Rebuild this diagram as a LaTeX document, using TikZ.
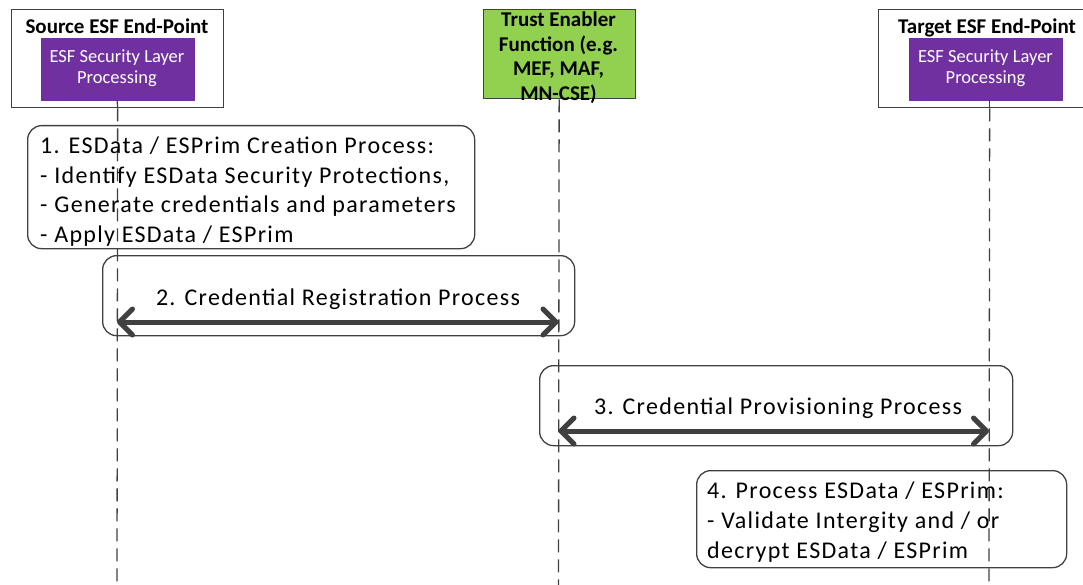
\documentclass[tikz,border=0pt]{standalone}
\usepackage{fontspec}
\setmainfont{Carlito}
\newfontfamily\bodyfont[LetterSpace=5.5]{Carlito}
\usetikzlibrary{arrows.meta}
\definecolor{linegray}{HTML}{404040}
\definecolor{purp}{HTML}{7030A0}
\definecolor{grn}{HTML}{92D050}
\begin{document}
\begin{tikzpicture}[x=1pt,y=-1pt,
  hdrbox/.style={draw=linegray,line width=1.3pt,inner sep=0pt,anchor=north west},
  purpbox/.style={fill=purp,draw=purp,inner sep=0pt,anchor=north west},
  procbox/.style={draw=linegray,line width=1.3pt,rounded corners=14pt,inner sep=0pt,anchor=north west},
  life/.style={draw=linegray,line width=1.3pt,dash pattern=on 13pt off 7pt},
  lifesolid/.style={draw=linegray,line width=1.3pt},
  msg/.style={draw=linegray,line width=5pt,{Straight Barb[length=13pt,width=26pt,round]}-{Straight Barb[length=13pt,width=26pt,round]}},
  title/.style={anchor=base,inner sep=0pt,font=\bfseries\fontsize{21}{24}\selectfont},
  txt/.style={inner sep=0pt}
]
\useasboundingbox (0,0) rectangle (1083,585);
\clip (0,0) rectangle (1083,585);

% header boxes
\node[hdrbox,minimum width=212pt,minimum height=98pt] (srcbox) at (11,9) {};
\node[purpbox,minimum width=153pt,minimum height=62pt] (srcpurp) at (40.5,38) {};
\node[hdrbox,fill=grn,minimum width=152pt,minimum height=89pt] (tebox) at (482.5,9) {};
\node[hdrbox,minimum width=222pt,minimum height=98pt] (tgtbox) at (878,9) {};
\node[purpbox,minimum width=153pt,minimum height=62pt] (tgtpurp) at (909,38) {};

% process boxes
\node[procbox,minimum width=447pt,minimum height=123pt] (b1) at (27,125) {};
\node[procbox,minimum width=472pt,minimum height=80pt] (b2) at (102,255) {};
\node[procbox,minimum width=473pt,minimum height=80pt] (b3) at (539,365) {};
\node[procbox,minimum width=370pt,minimum height=97pt] (b4) at (696,470) {};

% lifelines
\coordinate (srcend) at (117,585);
\coordinate (teend) at (558.5,585);
\coordinate (tgtend) at (989,585);
\draw[lifesolid] (srcpurp.south) -- (srcbox.south);
\draw[lifesolid] (tgtbox.south |- tgtpurp.south) -- (tgtbox.south);
\draw[life] (srcbox.south) -- (srcend);
\draw[life] (tebox.south) -- (teend);
\draw[life] (tgtbox.south) -- (tgtend);

% messages
\coordinate (m2a) at (117,322);
\coordinate (m2b) at (558.5,322);
\coordinate (m3a) at (558.5,431);
\coordinate (m3b) at (989,431);
\draw[msg] (m2a) -- (m2b);
\draw[msg] (m3a) -- (m3b);

% texts
\node[title] (srctitle) at (117,34) {Source ESF End-Point};
\node[title] (tgttitle) at (987,34) {Target ESF End-Point};
\node[txt,anchor=base,text=white] (srcptext) at (117,63) {\parbox[t]{150pt}{\centering\fontsize{18.5}{21}\selectfont ESF Security Layer\\Processing}};
\node[txt,anchor=base,text=white] (tgtptext) at (985.5,63) {\parbox[t]{150pt}{\centering\fontsize{18.5}{21}\selectfont ESF Security Layer\\Processing}};
\node[txt,anchor=base] (tetext) at (558.5,27) {\parbox[t]{150pt}{\centering\bfseries\fontsize{21}{24.5}\selectfont Trust Enabler\\Function (e.g.\\MEF, MAF,\\MN-CSE)}};

\node[txt,anchor=base west] (t1) at (40,154) {\parbox[t]{440pt}{\raggedright\bodyfont\fontsize{24}{29.5}\selectfont 1. ESData / ESPrim Creation Process:\\- Identify ESData Security Protections,\\- Generate credentials and parameters\\- Apply ESData / ESPrim}};
\node[txt,anchor=base] (t2) at (338,305) {\bodyfont\fontsize{24}{29.5}\selectfont 2. Credential Registration Process};
\node[txt,anchor=base] (t3) at (778,414) {\bodyfont\fontsize{24}{29.5}\selectfont 3. Credential Provisioning Process};
\node[txt,anchor=base west] (t4) at (707,498) {\parbox[t]{360pt}{\raggedright\bodyfont\fontsize{24}{30}\selectfont 4. Process ESData / ESPrim:\\- Validate Intergity and / or\\decrypt ESData / ESPrim}};
\end{tikzpicture}
\end{document}
